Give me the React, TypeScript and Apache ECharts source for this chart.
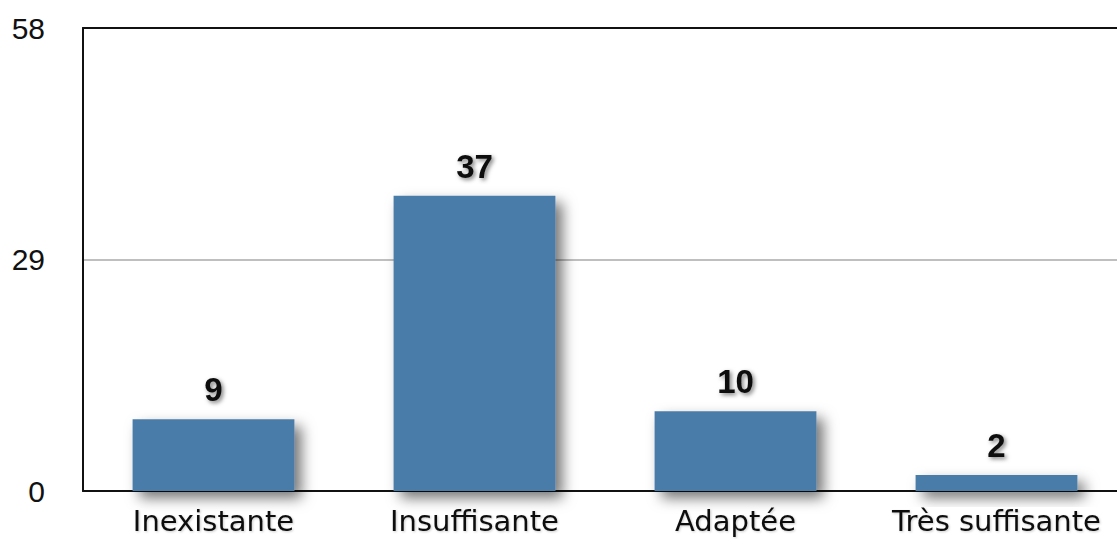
import React, { useEffect, useRef } from "react";
import * as echarts from "echarts";

const categories = ["Inexistante", "Insuffisante", "Adaptée", "Très suffisante"];
const values = [9, 37, 10, 2];
const yMin = 0;
const yMax = 58;
const yInterval = 29;

export default function App() {
  const ref = useRef<HTMLDivElement>(null);
  useEffect(() => {
    if (!ref.current) return;
    const chart = echarts.init(ref.current, null, { renderer: "svg" });
    chart.setOption({
      animation: false,
      backgroundColor: "#ffffff",
      grid: { left: 83, right: 0, top: 28, bottom: 48, containLabel: false },
      xAxis: [
        {
          type: "category",
          data: categories,
          axisLine: { show: true, lineStyle: { color: "#111", width: 2 } },
          axisTick: { show: false },
          axisLabel: {
            interval: 0,
            color: "#111",
            fontSize: 29,
            fontFamily: "DejaVu Sans, sans-serif",
            margin: 15,
            textShadowColor: "rgba(0,0,0,0.2)",
            textShadowBlur: 2,
            textShadowOffsetX: 1,
            textShadowOffsetY: 1,
          },
        },
        {
          type: "category",
          data: categories,
          position: "top",
          axisLine: { show: true, lineStyle: { color: "#111", width: 2 } },
          axisTick: { show: false },
          axisLabel: { show: false },
        },
      ],
      yAxis: {
        type: "value",
        min: yMin,
        max: yMax,
        interval: yInterval,
        axisLine: { show: true, lineStyle: { color: "#111", width: 2 } },
        axisTick: { show: false },
        splitLine: { show: true, lineStyle: { color: "#aaa", width: 1.5 } },
        axisLabel: {
          color: "#111",
          fontSize: 30,
          fontFamily: "Liberation Sans, Arial, sans-serif",
          margin: 38,
        },
      },
      series: [
        {
          type: "bar",
          data: values,
          barWidth: "62%",
          itemStyle: {
            color: "#4a7ba8",
            shadowColor: "rgba(0,0,0,0.55)",
            shadowBlur: 14,
            shadowOffsetX: 7,
            shadowOffsetY: 7,
          },
          label: {
            show: true,
            position: "top",
            distance: 13,
            color: "#111",
            fontSize: 33,
            fontWeight: "bold",
            fontFamily: "Liberation Sans, Arial, sans-serif",
            textShadowColor: "rgba(0,0,0,0.5)",
            textShadowBlur: 4,
            textShadowOffsetX: 2,
            textShadowOffsetY: 2,
          },
        },
      ],
    });
    return () => chart.dispose();
  }, []);
  return (
    <div style={{ position: "absolute", left: 0, top: 0, width: 1117, height: 539, overflow: "hidden" }}>
      <div ref={ref} style={{ width: 1127, height: 539 }} />
    </div>
  );
}
